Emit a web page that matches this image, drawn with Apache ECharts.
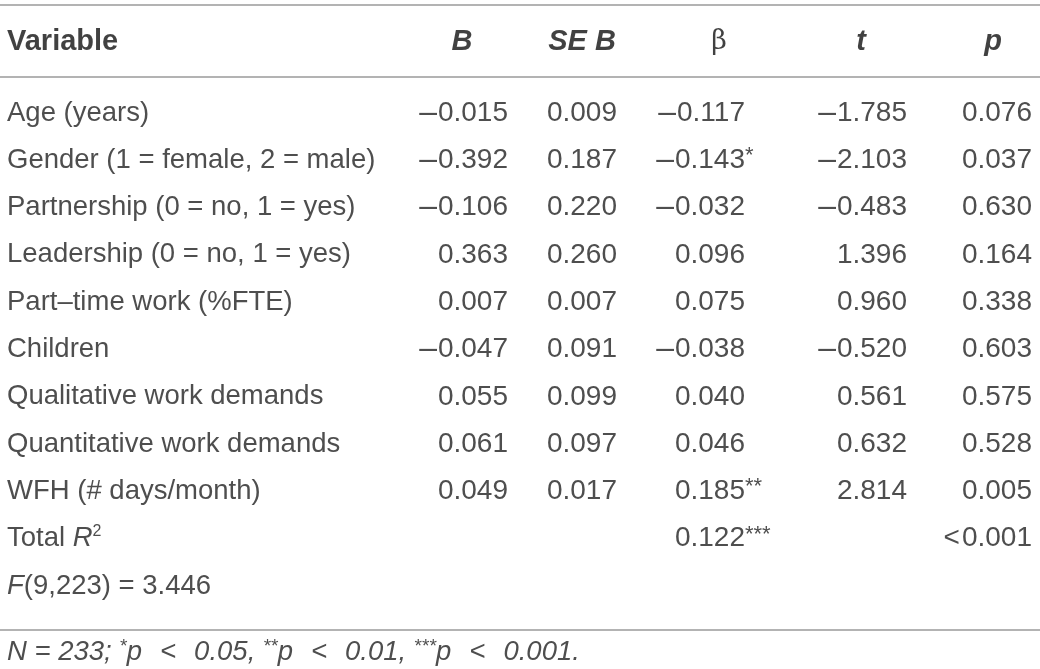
<!DOCTYPE html>
<html>
<head>
<meta charset="utf-8">
<script src="https://cdn.jsdelivr.net/npm/echarts@6/dist/echarts.min.js"></script>
<style>
  html, body { margin: 0; padding: 0; background: #ffffff; }
  #chart { width: 1040px; height: 669px; }
</style>
</head>
<body>
<div id="chart"></div>
<script>
// ---------- data ----------
const headers = ['Variable', 'B', 'SE B', 'β', 't', 'p'];
const variables = [
  'Age (years)',
  'Gender (1 = female, 2 = male)',
  'Partnership (0 = no, 1 = yes)',
  'Leadership (0 = no, 1 = yes)',
  'Part–time work (%FTE)',
  'Children',
  'Qualitative work demands',
  'Quantitative work demands',
  'WFH (# days/month)'
];
const B     = [-0.015, -0.392, -0.106, 0.363, 0.007, -0.047, 0.055, 0.061, 0.049];
const SEB   = [0.009, 0.187, 0.220, 0.260, 0.007, 0.091, 0.099, 0.097, 0.017];
const beta  = [-0.117, -0.143, -0.032, 0.096, 0.075, -0.038, 0.040, 0.046, 0.185];
const betaSig = ['', '*', '', '', '', '', '', '', '**'];
const tVals = [-1.785, -2.103, -0.483, 1.396, 0.960, -0.520, 0.561, 0.632, 2.814];
const pVals = [0.076, 0.037, 0.630, 0.164, 0.338, 0.603, 0.575, 0.528, 0.005];
const totalR2 = 0.122;
const totalR2Sig = '***';
const totalR2p = 0.001;   // shown as "<0.001"
const fStat = { df1: 9, df2: 223, value: 3.446 };
const footN = 233;
const footStars = ['*', '**', '***'];
const footLevels = ['0.05', '0.01', '0.001'];

// ---------- layout (not data) ----------
const FONT = 'Liberation Sans, Arial, Helvetica, sans-serif';
const FS = 27.5;      // body text
const FSN = 28;       // numbers
const TXT = '#222222';
const colX = { variable: 7, B: 508, SEB: 617, beta: 745, t: 907, p: 1032 };
const headX = [7, 462, 582, 719, 861, 993];
const HEADER_ROW = -1.5;
const FOOT_ROW = 11.4;
const totalRow = variables.length;      // 9
const fRow = variables.length + 1;      // 10

function fmt(v) {
  const s = Math.abs(v).toFixed(3);
  return v < 0 ? '{m|–}{n|' + s + '}' : '{n|' + s + '}';
}

const numRich = {
  n:  { fontFamily: FONT, fontSize: FSN, color: TXT },
  m:  { fontFamily: FONT, fontSize: FSN + 4, color: TXT, padding: [0, 1, 0, 0] },
  lt: { fontFamily: FONT, fontSize: FSN, color: TXT, padding: [0, 2, 0, 0] }
};

const baseLabel = {
  show: true,
  position: 'inside',
  verticalAlign: 'middle',
  fontFamily: FONT,
  fontSize: FSN,
  color: TXT,
  formatter: p => p.data[2]
};

function textSeries(name, data, labelExtra) {
  return {
    name: name,
    type: 'scatter',
    silent: true,
    clip: false,
    symbolSize: 1,
    itemStyle: { color: 'rgba(0,0,0,0)' },
    label: Object.assign({}, baseLabel, labelExtra || {}),
    data: data
  };
}

const textRich = {
  n:   { fontFamily: FONT, fontSize: FS, color: TXT, lineHeight: 30, verticalAlign: 'middle' },
  it:  { fontFamily: FONT, fontSize: FS, color: TXT, fontStyle: 'italic', lineHeight: 30, verticalAlign: 'middle' },
  lt:  { fontFamily: FONT, fontSize: FS, color: TXT, fontStyle: 'italic', lineHeight: 30, verticalAlign: 'middle', padding: [0, 18, 0, 18] },
  sup: { fontFamily: FONT, fontSize: 16, color: TXT, lineHeight: 16, verticalAlign: 'top' },
  supi:{ fontFamily: FONT, fontSize: 19, color: TXT, fontStyle: 'italic', lineHeight: 19, verticalAlign: 'top' }
};

// variable column
const varData = variables.map((v, i) => [colX.variable, i, '{n|' + v + '}']);
varData.push([colX.variable, totalRow, '{n|Total }{it|R}{sup|2}']);
varData.push([colX.variable, fRow, '{it|F}{n|(' + fStat.df1 + ',' + fStat.df2 + ') = ' + fStat.value.toFixed(3) + '}']);

const bData = B.map((v, i) => [colX.B, i, fmt(v)]);
const sebData = SEB.map((v, i) => [colX.SEB, i, fmt(v)]);
const betaData = beta.map((v, i) => [colX.beta, i, fmt(v)]);
betaData.push([colX.beta, totalRow, fmt(totalR2)]);
const sigData = betaSig.map((s, i) => [colX.beta, i, s]).filter(d => d[2]);
sigData.push([colX.beta, totalRow, totalR2Sig]);
const tData = tVals.map((v, i) => [colX.t, i, fmt(v)]);
const pData = pVals.map((v, i) => [colX.p, i, fmt(v)]);
pData.push([colX.p, totalRow, '{lt|<}' + fmt(totalR2p)]);

// header
const HC = '#111111';
const headRich = {
  b:  { fontFamily: FONT, fontSize: 29, fontWeight: 'bold', color: HC },
  bi: { fontFamily: FONT, fontSize: 29, fontWeight: 'bold', fontStyle: 'italic', color: HC },
  g:  { fontFamily: 'DejaVu Serif, Liberation Serif, serif', fontSize: 27, color: HC }
};
const headData = headers.map((h, i) => {
  let txt;
  if (i === 0) txt = '{b|' + h + '}';
  else if (h === 'β') txt = '{g|' + h + '}';
  else txt = '{bi|' + h + '}';
  return { value: [headX[i], HEADER_ROW, txt], label: { align: i === 0 ? 'left' : 'center' } };
});

// footnote
let footTxt = '{it|N = ' + footN + '; }';
footStars.forEach((s, k) => {
  footTxt += '{supi|' + s + '}{it|p}{lt|<}{it|' + footLevels[k] + (k < footStars.length - 1 ? ', ' : '.') + '}';
});
const footData = [[colX.variable, FOOT_ROW, footTxt]];

const chart = echarts.init(document.getElementById('chart'), null, { renderer: 'canvas' });

// grid: row 0 at y≈113, row spacing ≈47.3 px
const rowH = 47.3;
const yMin = -1.5, yMax = 11.4;
const gridTop = 113 + yMin * rowH;
const gridH = (yMax - yMin) * rowH;

const lineStyle = { stroke: '#9a9a9a', lineWidth: 1.5 };
const option = {
  animation: false,
  backgroundColor: '#ffffff',
  grid: { left: 0, right: 0, top: gridTop, height: gridH },
  xAxis: { type: 'value', min: 0, max: 1040, show: false },
  yAxis: { type: 'value', min: yMin, max: yMax, inverse: true, show: false },
  graphic: [
    { type: 'line', shape: { x1: 0, y1: 5, x2: 1040, y2: 5 }, style: lineStyle },
    { type: 'line', shape: { x1: 0, y1: 77, x2: 1040, y2: 77 }, style: lineStyle },
    { type: 'line', shape: { x1: 0, y1: 630, x2: 1040, y2: 630 }, style: lineStyle }
  ],
  series: [
    textSeries('header', headData, { rich: headRich, formatter: p => p.value[2] }),
    textSeries('Variable', varData, { align: 'left', rich: textRich }),
    textSeries('B', bData, { align: 'right', rich: numRich }),
    textSeries('SE B', sebData, { align: 'right', rich: numRich }),
    textSeries('β', betaData, { align: 'right', rich: numRich }),
    textSeries('β sig', sigData, { align: 'left', fontSize: 22, offset: [0, -4] }),
    textSeries('t', tData, { align: 'right', rich: numRich }),
    textSeries('p', pData, { align: 'right', rich: numRich }),
    textSeries('footnote', footData, { align: 'left', rich: textRich })
  ]
};

chart.setOption(option);
</script>
</body>
</html>
